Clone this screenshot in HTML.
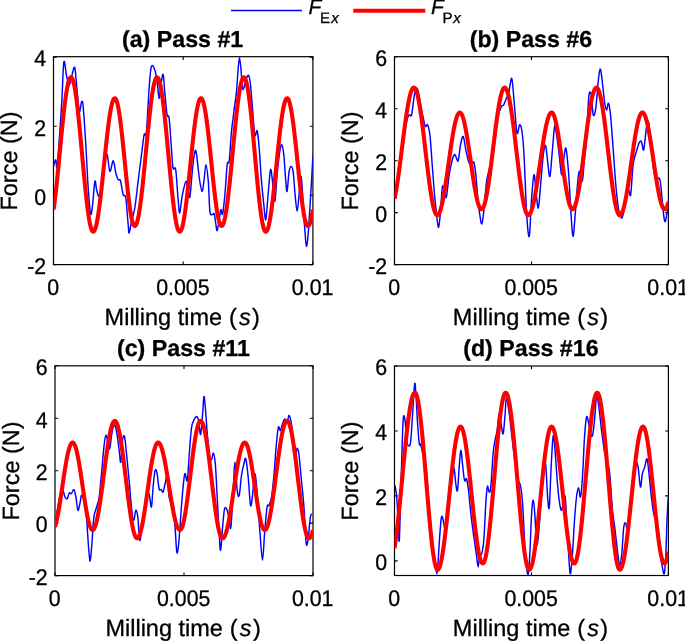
<!DOCTYPE html><html><head><meta charset="utf-8"><style>html,body{margin:0;padding:0;background:#fff;}svg{display:block;will-change:transform;}text{font-family:"Liberation Sans", sans-serif;text-rendering:geometricPrecision;stroke:#000;stroke-width:0.3px;}</style></head><body>
<svg width="685" height="641" viewBox="0 0 685 641">
<rect width="685" height="641" fill="#fff"/>
<clipPath id="ca"><rect x="53.5" y="56.7" width="259.4" height="207.9"/></clipPath>
<rect x="53.5" y="56.7" width="259.4" height="207.9" fill="none" stroke="#000" stroke-width="1.2"/>
<path d="M53.5,264.6 h3.2 M312.9,264.6 h-3.2" stroke="#000" stroke-width="1.1"/>
<text font-size="22" text-anchor="end" transform="translate(46.20,273.90) scale(0.970,1.030)">-2</text>
<path d="M53.5,195.4 h3.2 M312.9,195.4 h-3.2" stroke="#000" stroke-width="1.1"/>
<text font-size="22" text-anchor="end" transform="translate(46.20,204.73) scale(0.970,1.030)">0</text>
<path d="M53.5,126.3 h3.2 M312.9,126.3 h-3.2" stroke="#000" stroke-width="1.1"/>
<text font-size="22" text-anchor="end" transform="translate(46.20,135.57) scale(0.970,1.030)">2</text>
<path d="M53.5,57.1 h3.2 M312.9,57.1 h-3.2" stroke="#000" stroke-width="1.1"/>
<text font-size="22" text-anchor="end" transform="translate(46.20,66.40) scale(0.970,1.030)">4</text>
<path d="M53.5,264.6 v-3.2 M53.5,56.7 v3.2" stroke="#000" stroke-width="1.1"/>
<text font-size="22" text-anchor="middle" transform="translate(53.20,294.80) scale(0.970,1.030)">0</text>
<path d="M183.2,264.6 v-3.2 M183.2,56.7 v3.2" stroke="#000" stroke-width="1.1"/>
<text font-size="22" text-anchor="middle" transform="translate(182.90,294.80) scale(0.970,1.030)">0.005</text>
<path d="M312.9,264.6 v-3.2 M312.9,56.7 v3.2" stroke="#000" stroke-width="1.1"/>
<text font-size="22" text-anchor="middle" transform="translate(312.60,294.80) scale(0.970,1.030)">0.01</text>
<path d="M53.3,166.4 C53.7,165.3 55.0,160.1 55.7,159.8 C56.4,159.5 56.3,173.8 57.3,164.7 C58.3,155.5 60.5,122.0 61.6,104.9 C62.7,87.8 63.0,67.1 63.8,62.3 C64.6,57.5 65.7,72.2 66.6,76.0 C67.5,79.8 68.3,85.5 69.3,85.0 C70.3,84.5 71.6,75.9 72.5,73.0 C73.4,70.1 74.1,65.6 74.8,67.6 C75.5,69.6 75.8,77.7 76.6,85.0 C77.3,92.3 78.5,108.7 79.3,111.5 C80.1,114.3 80.9,102.1 81.6,101.6 C82.3,101.0 82.6,100.5 83.3,108.2 C84.0,115.9 85.2,134.7 86.0,148.0 C86.8,161.3 87.4,177.0 88.2,188.0 C89.0,199.0 89.9,211.2 90.6,214.0 C91.3,216.8 91.9,210.0 92.6,204.6 C93.3,199.2 94.2,183.9 94.9,181.4 C95.6,178.9 95.9,187.2 96.6,189.7 C97.3,192.2 98.1,196.6 98.9,196.3 C99.7,196.0 100.5,193.8 101.5,188.0 C102.5,182.2 104.0,166.9 104.9,161.4 C105.9,155.9 106.4,153.1 107.2,154.8 C108.0,156.5 108.9,170.4 109.9,171.4 C110.9,172.4 112.2,160.5 113.2,160.8 C114.2,161.1 115.0,169.8 115.8,173.0 C116.6,176.2 117.4,178.4 118.2,179.7 C119.0,181.0 119.7,178.2 120.5,180.7 C121.3,183.2 122.3,191.8 123.2,194.7 C124.1,197.6 125.0,193.0 125.8,198.0 C126.6,203.0 127.6,218.8 128.2,224.6 C128.8,230.4 128.5,233.4 129.1,232.9 C129.7,232.4 130.6,225.5 131.5,221.3 C132.4,217.2 133.7,214.7 134.8,208.0 C135.9,201.3 137.0,190.3 138.1,181.4 C139.2,172.5 140.5,162.6 141.5,154.8 C142.5,147.0 143.3,138.6 144.1,134.8 C144.9,131.0 145.6,139.9 146.4,132.2 C147.2,124.4 148.3,99.2 149.1,88.3 C149.9,77.4 150.4,69.6 151.4,66.6 C152.4,63.5 153.9,67.5 154.8,70.0 C155.8,72.5 156.4,76.9 157.1,81.6 C157.8,86.3 158.5,97.4 159.1,98.2 C159.7,99.0 160.0,90.6 160.7,86.6 C161.4,82.6 162.4,73.5 163.1,74.3 C163.8,75.1 164.0,84.8 164.7,91.6 C165.4,98.4 166.4,110.5 167.1,114.9 C167.8,119.3 168.4,112.7 169.1,118.2 C169.8,123.7 170.8,139.8 171.4,148.1 C172.1,156.4 172.3,164.5 173.0,168.1 C173.7,171.7 174.9,164.7 175.7,169.7 C176.5,174.7 177.3,190.8 178.0,198.0 C178.7,205.2 179.0,213.6 179.7,213.0 C180.4,212.4 181.3,200.0 182.4,194.7 C183.5,189.4 185.0,182.0 186.0,181.4 C187.0,180.8 187.6,188.8 188.3,191.3 C189.0,193.8 189.3,200.2 190.0,196.3 C190.7,192.4 191.8,175.5 192.6,168.0 C193.4,160.5 194.3,153.6 195.0,151.4 C195.7,149.2 195.9,150.4 196.6,154.8 C197.3,159.2 198.4,171.9 199.3,178.0 C200.2,184.1 201.2,190.7 202.0,191.3 C202.8,191.9 203.2,185.8 203.9,181.4 C204.6,177.0 205.2,164.7 205.9,164.7 C206.6,164.7 207.6,173.6 208.3,181.4 C209.0,189.2 209.2,205.8 209.9,211.3 C210.6,216.8 211.6,214.2 212.3,214.6 C213.0,215.0 213.7,212.3 214.3,214.0 C214.9,215.7 215.4,221.8 215.9,224.6 C216.4,227.4 216.6,231.4 217.2,230.6 C217.8,229.8 218.6,223.1 219.2,219.6 C219.8,216.1 220.3,210.5 220.9,209.6 C221.5,208.7 221.9,216.5 222.6,214.0 C223.3,211.5 224.1,202.9 224.9,194.7 C225.7,186.5 226.5,170.3 227.2,164.7 C227.9,159.0 228.5,166.3 229.2,160.8 C229.9,155.3 230.7,139.7 231.5,131.5 C232.3,123.3 233.1,118.2 233.9,111.5 C234.7,104.8 235.8,98.8 236.5,91.6 C237.2,84.4 237.7,73.9 238.2,68.3 C238.7,62.6 239.1,57.7 239.5,57.7 C239.9,57.7 240.4,63.2 240.9,68.3 C241.4,73.4 241.9,85.2 242.5,88.3 C243.1,91.3 243.5,88.3 244.2,86.6 C244.9,84.9 245.7,80.1 246.5,78.3 C247.3,76.5 248.1,74.5 248.8,75.6 C249.5,76.7 249.9,79.6 250.5,85.0 C251.1,90.4 251.8,99.9 252.5,108.2 C253.2,116.5 254.0,131.0 254.8,134.8 C255.6,138.6 256.5,128.6 257.2,130.8 C257.9,133.0 258.5,139.7 259.2,148.1 C259.9,156.5 260.7,172.0 261.5,181.4 C262.3,190.8 263.1,198.2 263.8,204.6 C264.5,211.0 265.1,221.2 265.8,219.6 C266.5,217.9 267.3,203.0 268.1,194.7 C268.9,186.4 269.8,171.9 270.5,169.7 C271.2,167.5 271.8,176.1 272.5,181.4 C273.2,186.7 274.0,202.4 274.8,201.3 C275.6,200.2 276.3,183.0 277.1,174.7 C277.9,166.4 279.0,156.4 279.8,151.4 C280.6,146.4 281.1,144.2 281.8,144.8 C282.5,145.4 283.1,148.7 283.8,154.8 C284.5,160.9 285.2,175.3 285.8,181.4 C286.4,187.5 286.6,193.0 287.1,191.3 C287.7,189.6 288.4,175.6 289.1,171.4 C289.8,167.2 290.4,166.4 291.1,166.4 C291.8,166.4 292.4,166.7 293.1,171.4 C293.8,176.1 294.4,188.0 295.1,194.7 C295.8,201.3 296.4,211.3 297.1,211.3 C297.8,211.3 298.4,200.5 299.1,194.7 C299.8,188.9 300.5,175.3 301.1,176.4 C301.8,177.5 302.4,192.7 303.0,201.3 C303.6,209.9 304.1,220.4 304.7,227.9 C305.3,235.4 305.8,245.6 306.4,246.2 C307.0,246.8 307.7,239.8 308.4,231.2 C309.1,222.6 309.9,207.4 310.7,194.7 C311.5,182.0 312.6,161.5 313.0,154.8" fill="none" stroke="#0000ff" stroke-width="1.45" stroke-linejoin="round" clip-path="url(#ca)"/>
<path d="M53.50,209.64 L54.00,206.22 L54.50,202.53 L55.00,198.59 L55.50,194.41 L56.00,190.03 L56.50,185.45 L57.00,180.71 L57.50,175.82 L58.00,170.81 L58.50,165.71 L59.00,160.53 L59.50,155.31 L60.00,150.08 L60.50,144.85 L61.00,139.66 L61.50,134.52 L62.00,129.47 L62.50,124.53 L63.00,119.73 L63.50,115.08 L64.00,110.62 L64.50,106.35 L65.00,102.32 L65.50,98.52 L66.00,94.99 L66.50,91.75 L67.00,88.80 L67.50,86.16 L68.00,83.84 L68.50,81.86 L69.00,80.23 L69.50,78.95 L70.00,78.04 L70.50,77.48 L71.00,77.30 L71.50,77.49 L72.00,78.07 L72.50,79.03 L73.00,80.37 L73.50,82.08 L74.00,84.15 L74.50,86.58 L75.00,89.34 L75.50,92.43 L76.00,95.83 L76.50,99.53 L77.00,103.50 L77.50,107.72 L78.00,112.18 L78.50,116.85 L79.00,121.71 L79.50,126.73 L80.00,131.89 L80.50,137.17 L81.00,142.53 L81.50,147.95 L82.00,153.41 L82.50,158.87 L83.00,164.31 L83.50,169.69 L84.00,175.01 L84.50,180.22 L85.00,185.30 L85.50,190.23 L86.00,194.98 L86.50,199.52 L87.00,203.84 L87.50,207.92 L88.00,211.72 L88.50,215.24 L89.00,218.46 L89.50,221.36 L90.00,223.92 L90.50,226.13 L91.00,227.99 L91.50,229.48 L92.00,230.59 L92.50,231.32 L93.00,231.67 L93.50,231.64 L94.00,231.25 L94.50,230.51 L95.00,229.43 L95.50,228.00 L96.00,226.24 L96.50,224.16 L97.00,221.76 L97.50,219.07 L98.00,216.08 L98.50,212.83 L99.00,209.33 L99.50,205.58 L100.00,201.63 L100.50,197.48 L101.00,193.16 L101.50,188.69 L102.00,184.09 L102.50,179.40 L103.00,174.62 L103.50,169.80 L104.00,164.95 L104.50,160.10 L105.00,155.28 L105.50,150.50 L106.00,145.81 L106.50,141.21 L107.00,136.74 L107.50,132.42 L108.00,128.27 L108.50,124.32 L109.00,120.57 L109.50,117.07 L110.00,113.82 L110.50,110.83 L111.00,108.14 L111.50,105.74 L112.00,103.66 L112.50,101.90 L113.00,100.47 L113.50,99.39 L114.00,98.65 L114.50,98.26 L115.00,98.23 L115.50,98.59 L116.00,99.33 L116.50,100.46 L117.00,101.98 L117.50,103.86 L118.00,106.10 L118.50,108.69 L119.00,111.61 L119.50,114.84 L120.00,118.36 L120.50,122.15 L121.00,126.18 L121.50,130.44 L122.00,134.89 L122.50,139.51 L123.00,144.27 L123.50,149.14 L124.00,154.09 L124.50,159.09 L125.00,164.11 L125.50,169.11 L126.00,174.07 L126.50,178.96 L127.00,183.75 L127.50,188.40 L128.00,192.88 L128.50,197.18 L129.00,201.26 L129.50,205.11 L130.00,208.68 L130.50,211.97 L131.00,214.95 L131.50,217.61 L132.00,219.92 L132.50,221.87 L133.00,223.46 L133.50,224.67 L134.00,225.50 L134.50,225.93 L135.00,225.97 L135.50,225.64 L136.00,224.94 L136.50,223.88 L137.00,222.46 L137.50,220.69 L138.00,218.57 L138.50,216.13 L139.00,213.36 L139.50,210.29 L140.00,206.93 L140.50,203.29 L141.00,199.40 L141.50,195.27 L142.00,190.92 L142.50,186.38 L143.00,181.67 L143.50,176.81 L144.00,171.82 L144.50,166.73 L145.00,161.57 L145.50,156.36 L146.00,151.13 L146.50,145.89 L147.00,140.69 L147.50,135.54 L148.00,130.47 L148.50,125.51 L149.00,120.68 L149.50,116.00 L150.00,111.49 L150.50,107.19 L151.00,103.11 L151.50,99.26 L152.00,95.68 L152.50,92.37 L153.00,89.36 L153.50,86.66 L154.00,84.28 L154.50,82.23 L155.00,80.53 L155.50,79.18 L156.00,78.19 L156.50,77.57 L157.00,77.31 L157.50,77.42 L158.00,77.90 L158.50,78.76 L159.00,79.98 L159.50,81.56 L160.00,83.49 L160.50,85.76 L161.00,88.37 L161.50,91.30 L162.00,94.53 L162.50,98.05 L163.00,101.84 L163.50,105.89 L164.00,110.17 L164.50,114.67 L165.00,119.36 L165.50,124.21 L166.00,129.22 L166.50,134.35 L167.00,139.57 L167.50,144.87 L168.00,150.21 L168.50,155.57 L169.00,160.93 L169.50,166.26 L170.00,171.53 L170.50,176.72 L171.00,181.80 L171.50,186.75 L172.00,191.54 L172.50,196.16 L173.00,200.57 L173.50,204.76 L174.00,208.71 L174.50,212.39 L175.00,215.80 L175.50,218.91 L176.00,221.71 L176.50,224.19 L177.00,226.33 L177.50,228.12 L178.00,229.55 L178.50,230.63 L179.00,231.33 L179.50,231.67 L180.00,231.63 L180.50,231.24 L181.00,230.48 L181.50,229.36 L182.00,227.90 L182.50,226.09 L183.00,223.95 L183.50,221.49 L184.00,218.72 L184.50,215.66 L185.00,212.32 L185.50,208.73 L186.00,204.90 L186.50,200.85 L187.00,196.61 L187.50,192.19 L188.00,187.63 L188.50,182.94 L189.00,178.15 L189.50,173.30 L190.00,168.39 L190.50,163.47 L191.00,158.56 L191.50,153.68 L192.00,148.87 L192.50,144.14 L193.00,139.52 L193.50,135.04 L194.00,130.73 L194.50,126.60 L195.00,122.68 L195.50,118.98 L196.00,115.54 L196.50,112.37 L197.00,109.48 L197.50,106.90 L198.00,104.63 L198.50,102.69 L199.00,101.08 L199.50,99.83 L200.00,98.92 L200.50,98.38 L201.00,98.20 L201.50,98.39 L202.00,98.94 L202.50,99.86 L203.00,101.15 L203.50,102.79 L204.00,104.77 L204.50,107.09 L205.00,109.73 L205.50,112.67 L206.00,115.89 L206.50,119.39 L207.00,123.14 L207.50,127.11 L208.00,131.28 L208.50,135.64 L209.00,140.14 L209.50,144.78 L210.00,149.51 L210.50,154.32 L211.00,159.18 L211.50,164.05 L212.00,168.91 L212.50,173.73 L213.00,178.48 L213.50,183.14 L214.00,187.67 L214.50,192.06 L215.00,196.27 L215.50,200.29 L216.00,204.08 L216.50,207.63 L217.00,210.91 L217.50,213.91 L218.00,216.61 L218.50,218.99 L219.00,221.04 L219.50,222.75 L220.00,224.11 L220.50,225.10 L221.00,225.73 L221.50,225.99 L222.00,225.88 L222.50,225.40 L223.00,224.56 L223.50,223.35 L224.00,221.79 L224.50,219.88 L225.00,217.63 L225.50,215.06 L226.00,212.17 L226.50,208.98 L227.00,205.50 L227.50,201.76 L228.00,197.77 L228.50,193.55 L229.00,189.13 L229.50,184.51 L230.00,179.74 L230.50,174.82 L231.00,169.79 L231.50,164.68 L232.00,159.49 L232.50,154.27 L233.00,149.03 L233.50,143.81 L234.00,138.62 L234.50,133.51 L235.00,128.48 L235.50,123.56 L236.00,118.79 L236.50,114.17 L237.00,109.75 L237.50,105.53 L238.00,101.54 L238.50,97.80 L239.00,94.32 L239.50,91.13 L240.00,88.24 L240.50,85.67 L241.00,83.42 L241.50,81.51 L242.00,79.95 L242.50,78.74 L243.00,77.90 L243.50,77.42 L244.00,77.31 L244.50,77.59 L245.00,78.26 L245.50,79.32 L246.00,80.78 L246.50,82.61 L247.00,84.81 L247.50,87.37 L248.00,90.27 L248.50,93.51 L249.00,97.06 L249.50,100.90 L250.00,105.02 L250.50,109.39 L251.00,114.00 L251.50,118.81 L252.00,123.81 L252.50,128.97 L253.00,134.25 L253.50,139.64 L254.00,145.11 L254.50,150.63 L255.00,156.16 L255.50,161.69 L256.00,167.18 L256.50,172.60 L257.00,177.93 L257.50,183.15 L258.00,188.21 L258.50,193.10 L259.00,197.79 L259.50,202.26 L260.00,206.49 L260.50,210.44 L261.00,214.11 L261.50,217.47 L262.00,220.51 L262.50,223.21 L263.00,225.56 L263.50,227.54 L264.00,229.14 L264.50,230.36 L265.00,231.19 L265.50,231.63 L266.00,231.67 L266.50,231.34 L267.00,230.66 L267.50,229.61 L268.00,228.22 L268.50,226.48 L269.00,224.40 L269.50,222.00 L270.00,219.30 L270.50,216.29 L271.00,213.01 L271.50,209.47 L272.00,205.68 L272.50,201.68 L273.00,197.47 L273.50,193.09 L274.00,188.55 L274.50,183.88 L275.00,179.12 L275.50,174.27 L276.00,169.38 L276.50,164.46 L277.00,159.54 L277.50,154.65 L278.00,149.82 L278.50,145.07 L279.00,140.43 L279.50,135.92 L280.00,131.58 L280.50,127.41 L281.00,123.44 L281.50,119.70 L282.00,116.21 L282.50,112.98 L283.00,110.04 L283.50,107.39 L284.00,105.06 L284.50,103.05 L285.00,101.38 L285.50,100.05 L286.00,99.08 L286.50,98.46 L287.00,98.21 L287.50,98.32 L288.00,98.78 L288.50,99.61 L289.00,100.79 L289.50,102.31 L290.00,104.18 L290.50,106.37 L291.00,108.87 L291.50,111.67 L292.00,114.76 L292.50,118.12 L293.00,121.72 L293.50,125.56 L294.00,129.60 L294.50,133.82 L295.00,138.20 L295.50,142.72 L296.00,147.35 L296.50,152.06 L297.00,156.82 L297.50,161.62 L298.00,166.42 L298.50,171.19 L299.00,175.92 L299.50,180.56 L300.00,185.10 L300.50,189.52 L301.00,193.77 L301.50,197.85 L302.00,201.73 L302.50,205.38 L303.00,208.79 L303.50,211.93 L304.00,214.79 L304.50,217.36 L305.00,219.61 L305.50,221.54 L306.00,223.13 L306.50,224.38 L307.00,225.28 L307.50,225.82 L308.00,226.00 L308.50,225.82 L309.00,225.29 L309.50,224.40 L310.00,223.16 L310.50,221.58 L311.00,219.66 L311.50,217.43 L312.00,214.88 L312.50,212.04 L312.90,209.56" fill="none" stroke="#ff0000" stroke-width="4.1" stroke-linejoin="round" clip-path="url(#ca)"/>
<text x="104.60" y="324.9" font-size="23.5">Milling time</text>
<text x="228.90" y="324.9" font-size="23.5">(</text>
<text x="238.90" y="324.9" font-size="23.5" font-style="italic">s</text>
<text x="252.10" y="324.9" font-size="23.5">)</text>
<text x="0" y="0" font-size="23.5" text-anchor="middle" transform="translate(17.1,161.0) rotate(-90)">Force (N)</text>
<text x="182.6" y="46.7" font-size="23.2" font-weight="bold" text-anchor="middle">(a) Pass #1</text>
<clipPath id="cb"><rect x="394.5" y="56.7" width="273.9" height="207.9"/></clipPath>
<rect x="394.5" y="56.7" width="273.9" height="207.9" fill="none" stroke="#000" stroke-width="1.2"/>
<path d="M394.5,264.6 h3.2 M668.4,264.6 h-3.2" stroke="#000" stroke-width="1.1"/>
<text font-size="22" text-anchor="end" transform="translate(387.20,273.90) scale(0.970,1.030)">-2</text>
<path d="M394.5,212.6 h3.2 M668.4,212.6 h-3.2" stroke="#000" stroke-width="1.1"/>
<text font-size="22" text-anchor="end" transform="translate(387.20,221.93) scale(0.970,1.030)">0</text>
<path d="M394.5,160.7 h3.2 M668.4,160.7 h-3.2" stroke="#000" stroke-width="1.1"/>
<text font-size="22" text-anchor="end" transform="translate(387.20,169.95) scale(0.970,1.030)">2</text>
<path d="M394.5,108.7 h3.2 M668.4,108.7 h-3.2" stroke="#000" stroke-width="1.1"/>
<text font-size="22" text-anchor="end" transform="translate(387.20,117.98) scale(0.970,1.030)">4</text>
<path d="M394.5,56.7 h3.2 M668.4,56.7 h-3.2" stroke="#000" stroke-width="1.1"/>
<text font-size="22" text-anchor="end" transform="translate(387.20,66.00) scale(0.970,1.030)">6</text>
<path d="M394.5,264.6 v-3.2 M394.5,56.7 v3.2" stroke="#000" stroke-width="1.1"/>
<text font-size="22" text-anchor="middle" transform="translate(394.20,294.80) scale(0.970,1.030)">0</text>
<path d="M531.5,264.6 v-3.2 M531.5,56.7 v3.2" stroke="#000" stroke-width="1.1"/>
<text font-size="22" text-anchor="middle" transform="translate(531.15,294.80) scale(0.970,1.030)">0.005</text>
<path d="M668.4,264.6 v-3.2 M668.4,56.7 v3.2" stroke="#000" stroke-width="1.1"/>
<text font-size="22" text-anchor="middle" transform="translate(668.10,294.80) scale(0.970,1.030)">0.01</text>
<path d="M395.0,198.0 C395.4,196.3 396.5,193.0 397.3,188.0 C398.1,183.0 399.0,175.8 400.0,168.0 C401.0,160.2 402.2,149.2 403.3,141.5 C404.4,133.8 405.7,125.9 406.6,121.5 C407.6,117.1 408.2,116.0 409.0,114.9 C409.8,113.8 410.8,117.7 411.6,114.9 C412.4,112.1 413.2,102.6 413.9,98.2 C414.6,93.8 415.2,89.4 415.9,88.3 C416.6,87.2 417.5,88.8 418.3,91.6 C419.1,94.4 419.8,100.5 420.6,104.9 C421.4,109.3 422.5,114.6 423.3,118.2 C424.1,121.8 424.6,125.4 425.3,126.5 C426.0,127.6 426.8,123.4 427.6,124.8 C428.4,126.2 429.1,128.2 429.9,134.8 C430.7,141.5 431.5,155.3 432.2,164.7 C432.9,174.1 433.5,183.0 434.2,191.3 C434.9,199.6 435.9,208.6 436.6,214.6 C437.3,220.6 438.0,227.9 438.6,227.3 C439.2,226.8 439.9,218.1 440.5,211.3 C441.1,204.5 441.8,189.2 442.5,186.4 C443.2,183.6 444.2,193.0 444.9,194.7 C445.6,196.3 445.8,199.6 446.5,196.3 C447.2,193.0 448.3,180.5 449.2,174.7 C450.1,168.9 451.1,164.7 451.9,161.4 C452.7,158.1 453.5,155.6 454.2,154.8 C454.9,154.0 455.1,155.4 455.8,156.4 C456.5,157.4 457.4,162.7 458.2,160.8 C459.0,158.9 459.7,148.9 460.5,144.8 C461.3,140.8 462.3,135.7 463.2,136.5 C464.1,137.3 464.9,145.7 465.8,149.8 C466.7,154.0 467.6,158.9 468.5,161.4 C469.4,163.9 470.6,164.6 471.5,164.7 C472.4,164.8 473.1,160.4 473.8,162.1 C474.5,163.8 475.1,168.2 475.8,174.7 C476.5,181.2 477.4,194.7 478.1,201.3 C478.8,208.0 479.2,210.8 479.8,214.6 C480.4,218.4 481.1,224.4 481.8,223.9 C482.5,223.4 483.0,218.1 483.8,211.3 C484.6,204.5 485.5,189.9 486.4,183.0 C487.3,176.1 488.3,173.3 489.1,169.7 C489.9,166.1 490.4,166.1 491.4,161.4 C492.3,156.7 493.7,149.0 494.8,141.5 C495.9,134.0 497.0,122.3 498.1,116.5 C499.2,110.7 500.5,108.4 501.4,106.5 C502.3,104.6 502.9,106.3 503.7,104.9 C504.5,103.5 505.6,100.2 506.4,98.2 C507.2,96.2 507.9,96.5 508.7,93.2 C509.5,89.9 510.7,79.1 511.4,78.3 C512.1,77.5 512.5,83.3 513.0,88.3 C513.5,93.3 514.0,100.7 514.7,108.2 C515.4,115.7 516.2,130.4 517.0,133.2 C517.8,136.0 518.9,125.1 519.7,124.8 C520.5,124.5 521.3,126.5 522.0,131.5 C522.7,136.5 523.2,141.0 524.0,154.8 C524.8,168.7 525.8,201.0 526.7,214.6 C527.6,228.2 528.5,239.0 529.3,236.2 C530.1,233.4 530.8,208.2 531.6,198.0 C532.4,187.8 533.3,175.8 534.0,174.7 C534.7,173.6 535.3,185.8 536.0,191.3 C536.7,196.9 537.5,209.1 538.3,208.0 C539.1,206.9 539.8,193.6 540.6,184.7 C541.4,175.8 542.5,161.3 543.3,154.8 C544.1,148.3 544.9,144.4 545.6,145.5 C546.3,146.6 546.9,156.2 547.6,161.4 C548.3,166.6 549.1,178.1 549.9,176.4 C550.7,174.7 551.5,159.7 552.3,151.4 C553.1,143.1 553.9,129.3 554.6,126.5 C555.3,123.7 555.8,130.1 556.6,134.8 C557.4,139.5 558.4,148.2 559.2,154.8 C560.0,161.5 560.8,174.1 561.6,174.7 C562.4,175.2 563.2,162.5 563.9,158.1 C564.6,153.7 565.2,146.4 565.9,148.1 C566.6,149.8 567.5,160.2 568.2,168.0 C568.9,175.8 569.4,185.8 569.9,194.7 C570.4,203.6 571.0,214.4 571.5,221.3 C572.0,228.2 572.6,237.3 573.2,236.2 C573.8,235.1 574.5,222.6 575.2,214.6 C575.9,206.6 576.5,195.2 577.2,188.0 C577.9,180.8 578.4,172.6 579.2,171.4 C580.1,170.2 581.5,182.7 582.3,181.0 C583.1,179.3 583.5,168.6 584.2,161.4 C584.9,154.2 585.7,148.9 586.5,138.1 C587.3,127.3 588.0,103.8 588.8,96.6 C589.6,89.4 590.5,91.9 591.2,94.9 C591.9,98.0 592.4,112.7 593.2,114.9 C594.0,117.1 595.0,113.8 595.8,108.2 C596.6,102.7 597.5,88.1 598.2,81.6 C598.9,75.1 599.5,69.3 600.1,69.0 C600.8,68.7 601.4,74.6 602.1,80.0 C602.8,85.4 603.8,96.6 604.5,101.6 C605.2,106.6 605.8,109.6 606.5,109.9 C607.2,110.2 607.8,102.4 608.5,103.2 C609.2,104.0 609.7,107.4 610.5,114.9 C611.3,122.4 612.2,136.5 613.1,148.1 C614.0,159.7 614.9,174.7 615.8,184.7 C616.7,194.7 617.5,202.4 618.4,208.0 C619.3,213.6 620.5,217.4 621.4,218.0 C622.3,218.6 623.0,215.2 623.8,211.3 C624.6,207.4 625.6,198.3 626.4,194.7 C627.2,191.1 628.0,189.7 628.7,189.7 C629.4,189.7 630.0,198.9 630.7,194.7 C631.4,190.5 632.2,171.9 633.1,164.7 C634.0,157.5 635.4,155.0 636.4,151.4 C637.4,147.8 638.3,144.8 639.1,143.1 C639.9,141.4 640.6,140.4 641.4,141.5 C642.2,142.6 642.9,152.0 643.7,149.8 C644.5,147.6 645.6,132.9 646.4,128.2 C647.2,123.5 647.7,119.8 648.4,121.5 C649.1,123.2 649.6,130.9 650.4,138.1 C651.2,145.3 652.1,157.8 653.0,164.7 C653.9,171.6 654.8,177.5 655.7,179.7 C656.6,181.9 657.5,177.7 658.3,178.0 C659.1,178.3 659.6,177.5 660.3,181.4 C661.0,185.3 661.6,194.7 662.3,201.3 C663.0,208.0 663.9,219.4 664.7,221.3 C665.5,223.2 666.3,216.9 667.0,213.0 C667.7,209.1 668.7,200.5 669.0,198.0" fill="none" stroke="#0000ff" stroke-width="1.45" stroke-linejoin="round" clip-path="url(#cb)"/>
<path d="M394.50,198.87 L395.00,196.53 L395.50,193.99 L396.00,191.25 L396.50,188.33 L397.00,185.23 L397.50,181.97 L398.00,178.57 L398.50,175.04 L399.00,171.39 L399.50,167.64 L400.00,163.81 L400.50,159.92 L401.00,155.97 L401.50,151.99 L402.00,148.00 L402.50,144.01 L403.00,140.04 L403.50,136.10 L404.00,132.21 L404.50,128.40 L405.00,124.67 L405.50,121.05 L406.00,117.54 L406.50,114.17 L407.00,110.94 L407.50,107.88 L408.00,104.99 L408.50,102.28 L409.00,99.78 L409.50,97.49 L410.00,95.42 L410.50,93.57 L411.00,91.96 L411.50,90.60 L412.00,89.49 L412.50,88.63 L413.00,88.02 L413.50,87.68 L414.00,87.61 L414.50,87.81 L415.00,88.30 L415.50,89.08 L416.00,90.14 L416.50,91.48 L417.00,93.09 L417.50,94.97 L418.00,97.10 L418.50,99.48 L419.00,102.10 L419.50,104.94 L420.00,107.99 L420.50,111.24 L421.00,114.67 L421.50,118.27 L422.00,122.01 L422.50,125.90 L423.00,129.89 L423.50,133.99 L424.00,138.16 L424.50,142.40 L425.00,146.67 L425.50,150.97 L426.00,155.27 L426.50,159.55 L427.00,163.79 L427.50,167.98 L428.00,172.09 L428.50,176.11 L429.00,180.02 L429.50,183.80 L430.00,187.42 L430.50,190.89 L431.00,194.18 L431.50,197.27 L432.00,200.15 L432.50,202.81 L433.00,205.24 L433.50,207.42 L434.00,209.35 L434.50,211.02 L435.00,212.41 L435.50,213.53 L436.00,214.37 L436.50,214.92 L437.00,215.18 L437.50,215.16 L438.00,214.88 L438.50,214.36 L439.00,213.60 L439.50,212.60 L440.00,211.36 L440.50,209.89 L441.00,208.20 L441.50,206.30 L442.00,204.19 L442.50,201.88 L443.00,199.39 L443.50,196.74 L444.00,193.92 L444.50,190.95 L445.00,187.86 L445.50,184.65 L446.00,181.34 L446.50,177.94 L447.00,174.48 L447.50,170.97 L448.00,167.42 L448.50,163.85 L449.00,160.28 L449.50,156.73 L450.00,153.22 L450.50,149.76 L451.00,146.36 L451.50,143.05 L452.00,139.84 L452.50,136.75 L453.00,133.78 L453.50,130.96 L454.00,128.31 L454.50,125.82 L455.00,123.51 L455.50,121.40 L456.00,119.50 L456.50,117.81 L457.00,116.34 L457.50,115.10 L458.00,114.10 L458.50,113.34 L459.00,112.82 L459.50,112.54 L460.00,112.52 L460.50,112.75 L461.00,113.23 L461.50,113.96 L462.00,114.93 L462.50,116.15 L463.00,117.60 L463.50,119.27 L464.00,121.17 L464.50,123.27 L465.00,125.57 L465.50,128.05 L466.00,130.70 L466.50,133.52 L467.00,136.47 L467.50,139.56 L468.00,142.75 L468.50,146.04 L469.00,149.41 L469.50,152.84 L470.00,156.31 L470.50,159.80 L471.00,163.30 L471.50,166.78 L472.00,170.24 L472.50,173.65 L473.00,176.98 L473.50,180.24 L474.00,183.39 L474.50,186.43 L475.00,189.33 L475.50,192.08 L476.00,194.67 L476.50,197.08 L477.00,199.30 L477.50,201.32 L478.00,203.12 L478.50,204.71 L479.00,206.07 L479.50,207.19 L480.00,208.06 L480.50,208.69 L481.00,209.07 L481.50,209.20 L482.00,209.06 L482.50,208.64 L483.00,207.95 L483.50,206.98 L484.00,205.75 L484.50,204.25 L485.00,202.50 L485.50,200.50 L486.00,198.26 L486.50,195.79 L487.00,193.10 L487.50,190.21 L488.00,187.13 L488.50,183.87 L489.00,180.45 L489.50,176.88 L490.00,173.18 L490.50,169.37 L491.00,165.46 L491.50,161.47 L492.00,157.42 L492.50,153.33 L493.00,149.22 L493.50,145.11 L494.00,141.01 L494.50,136.94 L495.00,132.93 L495.50,128.99 L496.00,125.13 L496.50,121.39 L497.00,117.76 L497.50,114.28 L498.00,110.95 L498.50,107.80 L499.00,104.83 L499.50,102.06 L500.00,99.50 L500.50,97.17 L501.00,95.07 L501.50,93.22 L502.00,91.62 L502.50,90.28 L503.00,89.20 L503.50,88.40 L504.00,87.87 L504.50,87.62 L505.00,87.65 L505.50,87.96 L506.00,88.55 L506.50,89.42 L507.00,90.57 L507.50,91.98 L508.00,93.66 L508.50,95.59 L509.00,97.77 L509.50,100.19 L510.00,102.83 L510.50,105.69 L511.00,108.75 L511.50,112.00 L512.00,115.43 L512.50,119.01 L513.00,122.74 L513.50,126.59 L514.00,130.56 L514.50,134.61 L515.00,138.75 L515.50,142.93 L516.00,147.16 L516.50,151.40 L517.00,155.64 L517.50,159.87 L518.00,164.05 L518.50,168.19 L519.00,172.24 L519.50,176.21 L520.00,180.06 L520.50,183.79 L521.00,187.37 L521.50,190.80 L522.00,194.05 L522.50,197.11 L523.00,199.97 L523.50,202.61 L524.00,205.03 L524.50,207.21 L525.00,209.14 L525.50,210.82 L526.00,212.23 L526.50,213.38 L527.00,214.25 L527.50,214.84 L528.00,215.15 L528.50,215.18 L529.00,214.97 L529.50,214.53 L530.00,213.86 L530.50,212.96 L531.00,211.83 L531.50,210.49 L532.00,208.94 L532.50,207.18 L533.00,205.23 L533.50,203.09 L534.00,200.77 L534.50,198.28 L535.00,195.63 L535.50,192.84 L536.00,189.92 L536.50,186.88 L537.00,183.74 L537.50,180.51 L538.00,177.20 L538.50,173.83 L539.00,170.41 L539.50,166.96 L540.00,163.50 L540.50,160.05 L541.00,156.60 L541.50,153.20 L542.00,149.84 L542.50,146.54 L543.00,143.32 L543.50,140.20 L544.00,137.18 L544.50,134.29 L545.00,131.53 L545.50,128.91 L546.00,126.46 L546.50,124.17 L547.00,122.06 L547.50,120.15 L548.00,118.43 L548.50,116.92 L549.00,115.62 L549.50,114.54 L550.00,113.69 L550.50,113.06 L551.00,112.67 L551.50,112.50 L552.00,112.59 L552.50,112.94 L553.00,113.57 L553.50,114.46 L554.00,115.61 L554.50,117.02 L555.00,118.68 L555.50,120.57 L556.00,122.70 L556.50,125.03 L557.00,127.57 L557.50,130.30 L558.00,133.20 L558.50,136.26 L559.00,139.45 L559.50,142.77 L560.00,146.19 L560.50,149.69 L561.00,153.25 L561.50,156.86 L562.00,160.49 L562.50,164.12 L563.00,167.73 L563.50,171.31 L564.00,174.82 L564.50,178.26 L565.00,181.59 L565.50,184.81 L566.00,187.90 L566.50,190.83 L567.00,193.60 L567.50,196.18 L568.00,198.55 L568.50,200.72 L569.00,202.66 L569.50,204.37 L570.00,205.83 L570.50,207.03 L571.00,207.98 L571.50,208.65 L572.00,209.06 L572.50,209.20 L573.00,209.07 L573.50,208.68 L574.00,208.03 L574.50,207.13 L575.00,205.97 L575.50,204.57 L576.00,202.93 L576.50,201.05 L577.00,198.95 L577.50,196.64 L578.00,194.11 L578.50,191.39 L579.00,188.49 L579.50,185.41 L580.00,182.18 L580.50,178.80 L581.00,175.29 L581.50,171.67 L582.00,167.94 L582.50,164.14 L583.00,160.26 L583.50,156.34 L584.00,152.38 L584.50,148.40 L585.00,144.42 L585.50,140.46 L586.00,136.54 L586.50,132.66 L587.00,128.86 L587.50,125.13 L588.00,121.51 L588.50,118.00 L589.00,114.62 L589.50,111.39 L590.00,108.31 L590.50,105.41 L591.00,102.69 L591.50,100.16 L592.00,97.85 L592.50,95.75 L593.00,93.87 L593.50,92.23 L594.00,90.83 L594.50,89.67 L595.00,88.77 L595.50,88.12 L596.00,87.73 L596.50,87.60 L597.00,87.74 L597.50,88.18 L598.00,88.90 L598.50,89.91 L599.00,91.19 L599.50,92.75 L600.00,94.57 L600.50,96.66 L601.00,98.99 L601.50,101.56 L602.00,104.35 L602.50,107.36 L603.00,110.57 L603.50,113.97 L604.00,117.53 L604.50,121.25 L605.00,125.11 L605.50,129.09 L606.00,133.16 L606.50,137.32 L607.00,141.55 L607.50,145.82 L608.00,150.11 L608.50,154.41 L609.00,158.70 L609.50,162.95 L610.00,167.15 L610.50,171.28 L611.00,175.32 L611.50,179.25 L612.00,183.05 L612.50,186.71 L613.00,190.21 L613.50,193.53 L614.00,196.67 L614.50,199.59 L615.00,202.30 L615.50,204.77 L616.00,207.01 L616.50,208.99 L617.00,210.71 L617.50,212.16 L618.00,213.33 L618.50,214.22 L619.00,214.83 L619.50,215.15 L620.00,215.18 L620.50,214.96 L621.00,214.49 L621.50,213.77 L622.00,212.82 L622.50,211.63 L623.00,210.20 L623.50,208.56 L624.00,206.69 L624.50,204.62 L625.00,202.36 L625.50,199.91 L626.00,197.28 L626.50,194.49 L627.00,191.56 L627.50,188.49 L628.00,185.30 L628.50,182.01 L629.00,178.63 L629.50,175.18 L630.00,171.67 L630.50,168.13 L631.00,164.56 L631.50,161.00 L632.00,157.44 L632.50,153.92 L633.00,150.44 L633.50,147.03 L634.00,143.71 L634.50,140.47 L635.00,137.36 L635.50,134.36 L636.00,131.52 L636.50,128.82 L637.00,126.30 L637.50,123.96 L638.00,121.81 L638.50,119.86 L639.00,118.13 L639.50,116.62 L640.00,115.33 L640.50,114.28 L641.00,113.47 L641.50,112.90 L642.00,112.58 L642.50,112.50 L643.00,112.67 L643.50,113.08 L644.00,113.72 L644.50,114.60 L645.00,115.71 L645.50,117.04 L646.00,118.59 L646.50,120.34 L647.00,122.30 L647.50,124.45 L648.00,126.78 L648.50,129.28 L649.00,131.94 L649.50,134.74 L650.00,137.66 L650.50,140.71 L651.00,143.85 L651.50,147.08 L652.00,150.38 L652.50,153.72 L653.00,157.11 L653.50,160.51 L654.00,163.91 L654.50,167.30 L655.00,170.66 L655.50,173.97 L656.00,177.21 L656.50,180.37 L657.00,183.44 L657.50,186.39 L658.00,189.21 L658.50,191.90 L659.00,194.43 L659.50,196.80 L660.00,198.98 L660.50,200.98 L661.00,202.78 L661.50,204.37 L662.00,205.74 L662.50,206.90 L663.00,207.82 L663.50,208.51 L664.00,208.97 L664.50,209.18 L665.00,209.15 L665.50,208.85 L666.00,208.27 L666.50,207.41 L667.00,206.29 L667.50,204.91 L668.00,203.27 L668.40,201.77" fill="none" stroke="#ff0000" stroke-width="4.1" stroke-linejoin="round" clip-path="url(#cb)"/>
<text x="452.85" y="324.9" font-size="23.5">Milling time</text>
<text x="577.15" y="324.9" font-size="23.5">(</text>
<text x="587.15" y="324.9" font-size="23.5" font-style="italic">s</text>
<text x="600.35" y="324.9" font-size="23.5">)</text>
<text x="0" y="0" font-size="23.5" text-anchor="middle" transform="translate(358.1,161.0) rotate(-90)">Force (N)</text>
<text x="530.9" y="46.7" font-size="23.2" font-weight="bold" text-anchor="middle">(b) Pass #6</text>
<clipPath id="cc"><rect x="55.0" y="365.8" width="258.0" height="209.8"/></clipPath>
<rect x="55.0" y="365.8" width="258.0" height="209.8" fill="none" stroke="#000" stroke-width="1.2"/>
<path d="M55.0,575.6 h3.2 M313.0,575.6 h-3.2" stroke="#000" stroke-width="1.1"/>
<text font-size="22" text-anchor="end" transform="translate(47.70,584.90) scale(0.970,1.030)">-2</text>
<path d="M55.0,523.1 h3.2 M313.0,523.1 h-3.2" stroke="#000" stroke-width="1.1"/>
<text font-size="22" text-anchor="end" transform="translate(47.70,532.45) scale(0.970,1.030)">0</text>
<path d="M55.0,470.7 h3.2 M313.0,470.7 h-3.2" stroke="#000" stroke-width="1.1"/>
<text font-size="22" text-anchor="end" transform="translate(47.70,480.00) scale(0.970,1.030)">2</text>
<path d="M55.0,418.2 h3.2 M313.0,418.2 h-3.2" stroke="#000" stroke-width="1.1"/>
<text font-size="22" text-anchor="end" transform="translate(47.70,427.55) scale(0.970,1.030)">4</text>
<path d="M55.0,365.8 h3.2 M313.0,365.8 h-3.2" stroke="#000" stroke-width="1.1"/>
<text font-size="22" text-anchor="end" transform="translate(47.70,375.10) scale(0.970,1.030)">6</text>
<path d="M55.0,575.6 v-3.2 M55.0,365.8 v3.2" stroke="#000" stroke-width="1.1"/>
<text font-size="22" text-anchor="middle" transform="translate(54.70,605.80) scale(0.970,1.030)">0</text>
<path d="M184.0,575.6 v-3.2 M184.0,365.8 v3.2" stroke="#000" stroke-width="1.1"/>
<text font-size="22" text-anchor="middle" transform="translate(183.70,605.80) scale(0.970,1.030)">0.005</text>
<path d="M313.0,575.6 v-3.2 M313.0,365.8 v3.2" stroke="#000" stroke-width="1.1"/>
<text font-size="22" text-anchor="middle" transform="translate(312.70,605.80) scale(0.970,1.030)">0.01</text>
<path d="M55.0,523.6 C55.4,521.4 56.5,515.0 57.3,510.3 C58.1,505.6 59.1,498.8 60.0,495.4 C60.9,492.0 61.8,489.4 62.6,489.7 C63.4,490.0 64.2,495.5 65.0,497.0 C65.8,498.5 66.6,499.4 67.3,498.7 C68.0,498.0 68.6,493.8 69.3,493.0 C70.0,492.2 70.5,494.2 71.3,493.7 C72.1,493.1 73.1,489.1 73.9,489.7 C74.7,490.2 75.2,493.6 75.9,497.0 C76.6,500.4 77.2,509.2 77.9,510.3 C78.6,511.4 79.2,506.2 79.9,503.7 C80.6,501.2 80.9,494.3 81.9,495.4 C82.9,496.5 85.0,504.5 85.9,510.3 C86.8,516.1 86.9,523.6 87.4,530.3 C87.9,536.9 88.3,545.1 88.8,550.2 C89.3,555.3 89.7,562.0 90.2,560.9 C90.7,559.8 91.3,550.9 91.9,543.6 C92.5,536.3 93.1,523.1 93.9,517.0 C94.7,510.9 95.7,510.3 96.6,507.0 C97.5,503.7 98.4,502.6 99.2,497.0 C100.0,491.4 100.7,482.0 101.5,473.7 C102.3,465.4 103.2,453.5 103.9,447.1 C104.6,440.7 105.2,436.7 105.8,435.5 C106.4,434.3 106.9,437.8 107.5,440.0 C108.1,442.2 108.9,449.7 109.6,449.0 C110.3,448.3 110.9,439.7 111.5,436.0 C112.1,432.3 112.6,428.7 113.2,427.0 C113.8,425.3 114.5,424.6 115.2,426.0 C115.9,427.4 116.5,431.4 117.2,435.5 C117.9,439.6 118.6,446.1 119.2,450.5 C119.8,454.9 120.2,463.8 120.8,462.1 C121.3,460.4 121.9,444.8 122.5,440.5 C123.1,436.2 123.8,434.3 124.5,436.5 C125.2,438.7 125.7,446.5 126.5,453.8 C127.3,461.1 128.2,471.0 129.1,480.4 C130.0,489.8 131.0,503.7 131.8,510.3 C132.6,517.0 133.1,520.3 133.8,520.3 C134.5,520.3 135.1,510.9 135.8,510.3 C136.5,509.8 137.1,512.0 137.8,517.0 C138.5,522.0 139.1,538.6 139.8,540.3 C140.5,542.0 141.1,532.0 141.8,527.0 C142.5,522.0 143.3,515.3 144.1,510.3 C144.9,505.3 145.6,499.8 146.4,497.0 C147.2,494.2 148.3,492.0 149.1,493.7 C149.9,495.4 150.7,508.1 151.4,507.0 C152.1,505.9 152.5,493.1 153.1,487.0 C153.7,480.9 154.4,472.6 155.1,470.4 C155.8,468.2 156.4,470.6 157.1,473.7 C157.8,476.8 158.4,486.0 159.1,488.7 C159.8,491.4 160.4,489.1 161.1,489.7 C161.8,490.2 162.4,493.0 163.1,492.0 C163.8,491.0 164.4,486.2 165.1,483.7 C165.8,481.2 166.4,474.9 167.1,477.1 C167.8,479.3 168.4,492.6 169.1,497.0 C169.8,501.4 170.6,502.0 171.4,503.7 C172.2,505.4 173.0,501.5 173.7,507.0 C174.4,512.5 175.1,529.2 175.7,536.9 C176.2,544.5 176.4,552.3 177.0,552.9 C177.6,553.5 178.3,547.9 179.0,540.3 C179.7,532.6 180.6,517.3 181.4,507.0 C182.2,496.7 183.3,484.2 184.0,478.7 C184.7,473.1 184.8,473.4 185.3,473.7 C185.9,474.0 186.6,483.7 187.3,480.4 C188.0,477.1 188.6,462.7 189.3,453.8 C190.0,444.9 190.8,432.9 191.6,427.2 C192.4,421.5 193.2,421.7 194.0,419.9 C194.8,418.1 195.8,416.4 196.6,416.5 C197.4,416.6 197.9,417.5 198.6,420.5 C199.3,423.5 199.9,435.6 200.6,434.5 C201.3,433.4 202.0,420.2 202.6,413.9 C203.2,407.6 203.4,397.7 203.9,396.6 C204.4,395.5 204.7,401.0 205.3,407.2 C205.9,413.4 206.6,426.0 207.3,433.8 C208.0,441.6 208.6,449.5 209.3,453.8 C210.0,458.1 210.9,459.9 211.6,459.8 C212.3,459.7 212.7,452.4 213.3,453.1 C213.9,453.8 214.7,456.5 215.3,463.8 C216.0,471.1 216.5,485.4 217.2,497.0 C217.8,508.6 218.6,524.7 219.2,533.6 C219.8,542.5 220.0,551.3 220.6,550.2 C221.2,549.1 221.9,533.9 222.6,527.0 C223.3,520.1 223.8,511.5 224.6,508.7 C225.4,505.9 226.4,508.4 227.2,510.3 C228.0,512.2 228.6,517.5 229.2,520.3 C229.8,523.1 230.2,532.0 230.9,527.0 C231.6,522.0 232.5,501.2 233.2,490.4 C233.9,479.6 234.2,462.1 234.9,462.1 C235.6,462.1 236.5,484.8 237.2,490.4 C237.9,495.9 238.5,497.9 239.2,495.4 C239.9,492.9 240.7,480.7 241.5,475.4 C242.3,470.1 243.2,466.6 243.9,463.8 C244.6,461.0 245.1,456.6 245.8,458.8 C246.5,461.0 247.4,469.4 248.2,477.1 C249.0,484.9 249.8,502.2 250.5,505.3 C251.2,508.4 251.8,500.7 252.5,495.4 C253.2,490.1 254.0,474.0 254.8,473.7 C255.6,473.4 256.4,484.3 257.2,493.7 C258.0,503.1 258.9,519.2 259.8,530.3 C260.7,541.4 261.7,560.2 262.5,560.2 C263.3,560.2 264.0,539.2 264.8,530.3 C265.6,521.4 266.4,511.2 267.1,507.0 C267.8,502.8 268.4,507.0 269.1,505.3 C269.8,503.6 270.7,501.7 271.5,497.0 C272.3,492.3 273.0,486.0 273.8,477.1 C274.6,468.2 275.6,452.1 276.4,443.8 C277.2,435.5 277.7,429.4 278.4,427.2 C279.1,425.0 279.7,431.1 280.4,430.5 C281.1,429.9 281.7,425.8 282.4,423.9 C283.1,422.0 284.0,419.2 284.8,418.9 C285.6,418.6 286.4,422.8 287.1,422.2 C287.8,421.6 288.4,415.2 289.1,415.5 C289.8,415.8 290.7,419.8 291.4,423.9 C292.1,428.0 292.8,435.0 293.5,440.0 C294.2,445.0 294.9,452.6 295.5,454.0 C296.1,455.4 296.6,448.1 297.2,448.3 C297.8,448.5 298.3,449.7 299.0,455.0 C299.7,460.3 300.6,471.7 301.4,480.0 C302.2,488.3 303.1,496.3 303.8,505.0 C304.5,513.7 304.9,525.3 305.3,532.0 C305.8,538.7 306.0,544.4 306.5,545.2 C307.0,546.0 307.8,541.6 308.4,536.9 C309.0,532.2 309.7,520.9 310.4,517.0 C311.1,513.1 312.1,514.2 312.4,513.7" fill="none" stroke="#0000ff" stroke-width="1.45" stroke-linejoin="round" clip-path="url(#cc)"/>
<path d="M55.00,526.83 L55.50,525.22 L56.00,523.38 L56.50,521.34 L57.00,519.09 L57.50,516.66 L58.00,514.05 L58.50,511.29 L59.00,508.39 L59.50,505.36 L60.00,502.22 L60.50,499.00 L61.00,495.70 L61.50,492.36 L62.00,488.98 L62.50,485.59 L63.00,482.21 L63.50,478.86 L64.00,475.55 L64.50,472.31 L65.00,469.16 L65.50,466.11 L66.00,463.18 L66.50,460.39 L67.00,457.75 L67.50,455.28 L68.00,453.00 L68.50,450.91 L69.00,449.03 L69.50,447.38 L70.00,445.95 L70.50,444.76 L71.00,443.82 L71.50,443.12 L72.00,442.69 L72.50,442.51 L73.00,442.59 L73.50,442.94 L74.00,443.55 L74.50,444.43 L75.00,445.57 L75.50,446.96 L76.00,448.59 L76.50,450.46 L77.00,452.54 L77.50,454.83 L78.00,457.32 L78.50,459.98 L79.00,462.81 L79.50,465.78 L80.00,468.87 L80.50,472.08 L81.00,475.37 L81.50,478.73 L82.00,482.13 L82.50,485.56 L83.00,489.00 L83.50,492.41 L84.00,495.79 L84.50,499.11 L85.00,502.36 L85.50,505.50 L86.00,508.52 L86.50,511.41 L87.00,514.14 L87.50,516.70 L88.00,519.07 L88.50,521.24 L89.00,523.19 L89.50,524.91 L90.00,526.40 L90.50,527.64 L91.00,528.63 L91.50,529.35 L92.00,529.81 L92.50,529.99 L93.00,529.91 L93.50,529.56 L94.00,528.93 L94.50,528.04 L95.00,526.88 L95.50,525.47 L96.00,523.81 L96.50,521.90 L97.00,519.76 L97.50,517.40 L98.00,514.83 L98.50,512.07 L99.00,509.12 L99.50,506.00 L100.00,502.72 L100.50,499.32 L101.00,495.79 L101.50,492.16 L102.00,488.45 L102.50,484.67 L103.00,480.84 L103.50,476.99 L104.00,473.13 L104.50,469.29 L105.00,465.47 L105.50,461.70 L106.00,458.01 L106.50,454.40 L107.00,450.89 L107.50,447.51 L108.00,444.27 L108.50,441.18 L109.00,438.27 L109.50,435.54 L110.00,433.01 L110.50,430.69 L111.00,428.60 L111.50,426.74 L112.00,425.13 L112.50,423.76 L113.00,422.66 L113.50,421.82 L114.00,421.25 L114.50,420.95 L115.00,420.92 L115.50,421.19 L116.00,421.74 L116.50,422.58 L117.00,423.70 L117.50,425.10 L118.00,426.76 L118.50,428.70 L119.00,430.88 L119.50,433.30 L120.00,435.96 L120.50,438.83 L121.00,441.90 L121.50,445.16 L122.00,448.60 L122.50,452.18 L123.00,455.90 L123.50,459.74 L124.00,463.68 L124.50,467.69 L125.00,471.77 L125.50,475.88 L126.00,480.01 L126.50,484.14 L127.00,488.25 L127.50,492.32 L128.00,496.32 L128.50,500.24 L129.00,504.05 L129.50,507.75 L130.00,511.30 L130.50,514.70 L131.00,517.93 L131.50,520.96 L132.00,523.79 L132.50,526.40 L133.00,528.78 L133.50,530.91 L134.00,532.79 L134.50,534.41 L135.00,535.75 L135.50,536.82 L136.00,537.60 L136.50,538.09 L137.00,538.29 L137.50,538.21 L138.00,537.87 L138.50,537.25 L139.00,536.38 L139.50,535.25 L140.00,533.86 L140.50,532.24 L141.00,530.38 L141.50,528.29 L142.00,526.00 L142.50,523.50 L143.00,520.82 L143.50,517.97 L144.00,514.97 L144.50,511.83 L145.00,508.56 L145.50,505.20 L146.00,501.76 L146.50,498.25 L147.00,494.69 L147.50,491.12 L148.00,487.54 L148.50,483.97 L149.00,480.44 L149.50,476.97 L150.00,473.57 L150.50,470.26 L151.00,467.07 L151.50,464.01 L152.00,461.10 L152.50,458.35 L153.00,455.78 L153.50,453.40 L154.00,451.23 L154.50,449.28 L155.00,447.56 L155.50,446.08 L156.00,444.84 L156.50,443.87 L157.00,443.15 L157.50,442.69 L158.00,442.51 L158.50,442.57 L159.00,442.86 L159.50,443.38 L160.00,444.12 L160.50,445.07 L161.00,446.23 L161.50,447.60 L162.00,449.17 L162.50,450.93 L163.00,452.87 L163.50,454.98 L164.00,457.26 L164.50,459.68 L165.00,462.24 L165.50,464.92 L166.00,467.71 L166.50,470.60 L167.00,473.57 L167.50,476.60 L168.00,479.69 L168.50,482.80 L169.00,485.94 L169.50,489.07 L170.00,492.19 L170.50,495.28 L171.00,498.33 L171.50,501.31 L172.00,504.22 L172.50,507.03 L173.00,509.73 L173.50,512.32 L174.00,514.77 L174.50,517.07 L175.00,519.22 L175.50,521.20 L176.00,522.99 L176.50,524.60 L177.00,526.01 L177.50,527.22 L178.00,528.21 L178.50,528.99 L179.00,529.55 L179.50,529.89 L180.00,530.00 L180.50,529.84 L181.00,529.37 L181.50,528.58 L182.00,527.48 L182.50,526.08 L183.00,524.39 L183.50,522.41 L184.00,520.16 L184.50,517.65 L185.00,514.89 L185.50,511.91 L186.00,508.71 L186.50,505.32 L187.00,501.76 L187.50,498.04 L188.00,494.19 L188.50,490.24 L189.00,486.19 L189.50,482.09 L190.00,477.94 L190.50,473.79 L191.00,469.64 L191.50,465.52 L192.00,461.47 L192.50,457.49 L193.00,453.62 L193.50,449.87 L194.00,446.28 L194.50,442.85 L195.00,439.61 L195.50,436.58 L196.00,433.78 L196.50,431.22 L197.00,428.92 L197.50,426.88 L198.00,425.13 L198.50,423.67 L199.00,422.52 L199.50,421.67 L200.00,421.13 L200.50,420.91 L201.00,421.00 L201.50,421.38 L202.00,422.07 L202.50,423.05 L203.00,424.31 L203.50,425.86 L204.00,427.68 L204.50,429.77 L205.00,432.11 L205.50,434.69 L206.00,437.50 L206.50,440.53 L207.00,443.75 L207.50,447.16 L208.00,450.74 L208.50,454.46 L209.00,458.30 L209.50,462.26 L210.00,466.30 L210.50,470.42 L211.00,474.58 L211.50,478.76 L212.00,482.95 L212.50,487.12 L213.00,491.26 L213.50,495.33 L214.00,499.33 L214.50,503.22 L215.00,506.99 L215.50,510.63 L216.00,514.10 L216.50,517.40 L217.00,520.51 L217.50,523.41 L218.00,526.08 L218.50,528.52 L219.00,530.71 L219.50,532.64 L220.00,534.30 L220.50,535.68 L221.00,536.77 L221.50,537.58 L222.00,538.08 L222.50,538.29 L223.00,538.22 L223.50,537.91 L224.00,537.36 L224.50,536.58 L225.00,535.56 L225.50,534.32 L226.00,532.86 L226.50,531.19 L227.00,529.31 L227.50,527.24 L228.00,524.98 L228.50,522.55 L229.00,519.96 L229.50,517.22 L230.00,514.35 L230.50,511.36 L231.00,508.26 L231.50,505.07 L232.00,501.81 L232.50,498.50 L233.00,495.14 L233.50,491.76 L234.00,488.37 L234.50,484.99 L235.00,481.64 L235.50,478.33 L236.00,475.08 L236.50,471.91 L237.00,468.84 L237.50,465.87 L238.00,463.02 L238.50,460.31 L239.00,457.75 L239.50,455.35 L240.00,453.13 L240.50,451.10 L241.00,449.26 L241.50,447.63 L242.00,446.21 L242.50,445.01 L243.00,444.05 L243.50,443.31 L244.00,442.81 L244.50,442.54 L245.00,442.52 L245.50,442.76 L246.00,443.27 L246.50,444.05 L247.00,445.09 L247.50,446.38 L248.00,447.91 L248.50,449.68 L249.00,451.68 L249.50,453.89 L250.00,456.30 L250.50,458.90 L251.00,461.66 L251.50,464.57 L252.00,467.62 L252.50,470.79 L253.00,474.04 L253.50,477.38 L254.00,480.77 L254.50,484.19 L255.00,487.62 L255.50,491.05 L256.00,494.45 L256.50,497.79 L257.00,501.07 L257.50,504.25 L258.00,507.33 L258.50,510.27 L259.00,513.06 L259.50,515.69 L260.00,518.14 L260.50,520.39 L261.00,522.43 L261.50,524.25 L262.00,525.84 L262.50,527.18 L263.00,528.26 L263.50,529.09 L264.00,529.66 L264.50,529.95 L265.00,529.98 L265.50,529.73 L266.00,529.22 L266.50,528.44 L267.00,527.40 L267.50,526.10 L268.00,524.55 L268.50,522.76 L269.00,520.73 L269.50,518.47 L270.00,516.01 L270.50,513.34 L271.00,510.48 L271.50,507.45 L272.00,504.26 L272.50,500.93 L273.00,497.47 L273.50,493.91 L274.00,490.25 L274.50,486.52 L275.00,482.73 L275.50,478.91 L276.00,475.07 L276.50,471.23 L277.00,467.41 L277.50,463.63 L278.00,459.91 L278.50,456.27 L279.00,452.73 L279.50,449.29 L280.00,445.99 L280.50,442.83 L281.00,439.83 L281.50,437.01 L282.00,434.38 L282.50,431.96 L283.00,429.75 L283.50,427.77 L284.00,426.02 L284.50,424.52 L285.00,423.27 L285.50,422.28 L286.00,421.55 L286.50,421.09 L287.00,420.91 L287.50,421.00 L288.00,421.39 L288.50,422.08 L289.00,423.07 L289.50,424.34 L290.00,425.91 L290.50,427.74 L291.00,429.85 L291.50,432.21 L292.00,434.81 L292.50,437.65 L293.00,440.70 L293.50,443.95 L294.00,447.38 L294.50,450.98 L295.00,454.73 L295.50,458.60 L296.00,462.59 L296.50,466.66 L297.00,470.79 L297.50,474.97 L298.00,479.18 L298.50,483.39 L299.00,487.57 L299.50,491.72 L300.00,495.81 L300.50,499.81 L301.00,503.71 L301.50,507.48 L302.00,511.11 L302.50,514.58 L303.00,517.87 L303.50,520.96 L304.00,523.84 L304.50,526.49 L305.00,528.90 L305.50,531.06 L306.00,532.95 L306.50,534.57 L307.00,535.90 L307.50,536.95 L308.00,537.70 L308.50,538.15 L309.00,538.30 L309.50,538.17 L310.00,537.77 L310.50,537.10 L311.00,536.18 L311.50,535.00 L312.00,533.57 L312.50,531.90 L313.00,529.99" fill="none" stroke="#ff0000" stroke-width="4.1" stroke-linejoin="round" clip-path="url(#cc)"/>
<text x="105.40" y="635.9" font-size="23.5">Milling time</text>
<text x="229.70" y="635.9" font-size="23.5">(</text>
<text x="239.70" y="635.9" font-size="23.5" font-style="italic">s</text>
<text x="252.90" y="635.9" font-size="23.5">)</text>
<text x="0" y="0" font-size="23.5" text-anchor="middle" transform="translate(18.6,471.0) rotate(-90)">Force (N)</text>
<text x="183.4" y="355.8" font-size="23.2" font-weight="bold" text-anchor="middle">(c) Pass #11</text>
<clipPath id="cd"><rect x="394.5" y="366.0" width="273.9" height="209.5"/></clipPath>
<rect x="394.5" y="366.0" width="273.9" height="209.5" fill="none" stroke="#000" stroke-width="1.2"/>
<path d="M394.5,560.9 h3.2 M668.4,560.9 h-3.2" stroke="#000" stroke-width="1.1"/>
<text font-size="22" text-anchor="end" transform="translate(387.20,570.18) scale(0.970,1.030)">0</text>
<path d="M394.5,495.9 h3.2 M668.4,495.9 h-3.2" stroke="#000" stroke-width="1.1"/>
<text font-size="22" text-anchor="end" transform="translate(387.20,505.22) scale(0.970,1.030)">2</text>
<path d="M394.5,431.0 h3.2 M668.4,431.0 h-3.2" stroke="#000" stroke-width="1.1"/>
<text font-size="22" text-anchor="end" transform="translate(387.20,440.26) scale(0.970,1.030)">4</text>
<path d="M394.5,366.0 h3.2 M668.4,366.0 h-3.2" stroke="#000" stroke-width="1.1"/>
<text font-size="22" text-anchor="end" transform="translate(387.20,375.30) scale(0.970,1.030)">6</text>
<path d="M394.5,575.5 v-3.2 M394.5,366.0 v3.2" stroke="#000" stroke-width="1.1"/>
<text font-size="22" text-anchor="middle" transform="translate(394.20,605.70) scale(0.970,1.030)">0</text>
<path d="M531.5,575.5 v-3.2 M531.5,366.0 v3.2" stroke="#000" stroke-width="1.1"/>
<text font-size="22" text-anchor="middle" transform="translate(531.15,605.70) scale(0.970,1.030)">0.005</text>
<path d="M668.4,575.5 v-3.2 M668.4,366.0 v3.2" stroke="#000" stroke-width="1.1"/>
<text font-size="22" text-anchor="middle" transform="translate(668.10,605.70) scale(0.970,1.030)">0.01</text>
<path d="M395.0,485.4 C395.3,487.3 396.1,490.6 396.7,497.0 C397.2,503.4 397.9,516.4 398.3,523.6 C398.7,530.8 398.9,544.7 399.3,540.3 C399.7,535.9 400.2,512.0 400.6,497.0 C401.1,482.0 401.6,463.6 402.0,450.5 C402.4,437.4 402.8,423.6 403.3,418.5 C403.8,413.4 404.4,416.2 405.0,419.9 C405.6,423.6 406.1,436.2 406.6,440.5 C407.2,444.8 407.6,445.2 408.3,445.5 C409.0,445.8 409.9,447.5 410.6,442.2 C411.3,436.9 411.9,423.6 412.6,413.9 C413.3,404.2 414.1,387.3 414.6,384.0 C415.2,380.7 415.4,387.2 415.9,393.9 C416.4,400.5 417.0,415.6 417.6,423.9 C418.2,432.2 418.8,440.2 419.3,443.8 C419.9,447.4 419.8,441.1 420.9,445.5 C422.0,449.9 425.0,461.8 426.2,470.4 C427.4,479.0 427.6,488.7 428.3,497.0 C429.0,505.3 429.7,513.1 430.4,520.3 C431.1,527.5 431.8,535.0 432.3,540.3 C432.9,545.6 433.2,548.6 433.7,551.9 C434.1,555.2 434.5,556.5 435.0,560.2 C435.5,563.9 436.4,574.0 436.9,574.0 C437.4,574.0 437.7,566.9 438.2,560.2 C438.7,553.5 439.3,540.8 439.9,533.6 C440.4,526.4 440.9,519.2 441.5,517.0 C442.1,514.8 442.6,518.1 443.2,520.3 C443.8,522.5 444.5,529.8 445.2,530.3 C445.9,530.8 446.5,528.0 447.2,523.6 C447.9,519.2 448.5,510.4 449.2,503.7 C449.9,497.0 450.7,489.8 451.5,483.7 C452.3,477.6 453.2,467.1 453.9,467.1 C454.6,467.1 455.2,479.8 455.8,483.7 C456.4,487.6 456.9,493.2 457.5,490.4 C458.1,487.6 458.6,473.8 459.2,467.1 C459.8,460.5 460.2,451.1 460.8,450.5 C461.4,449.9 461.9,458.8 462.5,463.8 C463.1,468.8 463.8,477.9 464.5,480.4 C465.2,482.9 465.8,477.0 466.5,478.7 C467.2,480.4 467.8,485.1 468.5,490.4 C469.2,495.7 469.8,504.2 470.5,510.3 C471.2,516.4 471.8,521.5 472.5,527.0 C473.2,532.5 474.1,538.9 474.8,543.6 C475.5,548.3 475.9,551.3 476.5,555.2 C477.1,559.1 477.6,566.9 478.1,566.9 C478.7,566.9 479.2,557.4 479.8,555.2 C480.4,553.0 481.1,556.1 481.8,553.6 C482.5,551.1 483.1,548.6 483.8,540.3 C484.5,532.0 485.2,512.7 485.8,503.7 C486.4,494.7 486.8,488.3 487.4,486.4 C487.9,484.4 488.5,491.9 489.1,492.0 C489.7,492.1 490.1,493.4 490.8,487.0 C491.5,480.6 492.4,461.7 493.1,453.8 C493.8,445.9 494.4,443.7 495.1,439.8 C495.8,435.9 496.4,434.8 497.1,430.5 C497.8,426.2 498.4,415.0 499.1,413.9 C499.8,412.8 500.4,420.6 501.1,423.9 C501.8,427.2 502.4,435.5 503.1,433.8 C503.8,432.1 504.6,420.0 505.1,413.9 C505.7,407.8 505.7,397.3 506.4,397.3 C507.1,397.3 508.3,406.9 509.3,414.0 C510.3,421.1 511.3,431.7 512.3,440.0 C513.3,448.3 514.3,457.3 515.3,464.0 C516.3,470.7 517.5,476.7 518.3,480.0 C519.1,483.3 519.5,482.0 520.0,484.0 C520.5,486.0 521.0,487.7 521.5,492.0 C522.0,496.3 522.4,500.3 523.0,510.0 C523.6,519.7 524.4,540.5 525.0,550.2 C525.6,560.0 526.2,564.6 526.7,568.5 C527.2,572.4 527.8,576.5 528.3,573.5 C528.8,570.5 529.5,560.2 530.0,550.2 C530.5,540.2 531.1,522.0 531.6,513.7 C532.1,505.4 532.7,499.8 533.3,500.3 C533.9,500.9 534.5,509.8 535.0,517.0 C535.5,524.2 536.1,540.3 536.6,543.6 C537.1,546.9 537.6,543.0 538.3,536.9 C539.0,530.8 539.8,517.0 540.6,507.0 C541.4,497.0 542.5,484.3 543.3,477.1 C544.1,469.9 544.9,460.5 545.6,463.8 C546.3,467.1 547.0,489.8 547.6,497.0 C548.2,504.2 548.7,512.5 549.3,507.0 C549.9,501.5 550.6,475.7 551.3,463.8 C552.0,451.9 552.6,437.2 553.3,435.5 C554.0,433.8 554.6,446.3 555.3,453.8 C555.9,461.3 556.6,472.6 557.2,480.4 C557.9,488.1 558.5,495.3 559.2,500.3 C559.9,505.3 560.5,509.7 561.2,510.3 C561.9,510.9 562.5,505.9 563.2,503.7 C563.9,501.5 564.5,492.6 565.2,497.0 C565.9,501.4 566.5,519.2 567.2,530.3 C567.9,541.4 568.7,556.3 569.2,563.5 C569.8,570.7 570.0,575.1 570.5,573.5 C571.0,571.9 571.8,562.5 572.5,553.6 C573.2,544.7 573.8,529.7 574.5,520.3 C575.2,510.9 575.8,502.4 576.5,497.0 C577.2,491.6 577.8,487.7 578.5,487.7 C579.2,487.7 579.8,498.8 580.5,497.0 C581.2,495.2 581.8,487.1 582.5,477.1 C583.2,467.1 583.8,447.2 584.5,437.2 C585.2,427.2 585.8,419.7 586.5,417.2 C587.2,414.7 587.8,419.4 588.5,422.2 C589.2,425.0 589.8,431.6 590.5,433.8 C591.2,436.0 591.8,437.7 592.5,435.5 C593.2,433.3 593.8,426.9 594.5,420.5 C595.2,414.1 595.8,400.1 596.5,397.3 C597.2,394.6 597.7,398.6 598.5,404.0 C599.3,409.4 600.5,422.0 601.5,430.0 C602.5,438.0 603.6,446.7 604.5,452.0 C605.4,457.3 606.2,459.0 607.0,462.0 C607.8,465.0 608.6,465.3 609.3,470.0 C610.0,474.7 610.5,483.3 611.0,490.0 C611.5,496.7 611.8,503.6 612.5,510.3 C613.2,517.0 614.2,523.1 615.1,530.3 C616.0,537.5 617.0,547.8 617.8,553.6 C618.6,559.4 619.1,565.2 619.8,565.2 C620.5,565.2 621.1,560.0 621.8,553.6 C622.5,547.2 623.1,532.0 623.8,527.0 C624.5,522.0 625.1,522.5 625.8,523.6 C626.5,524.7 627.3,535.8 628.1,533.6 C628.9,531.4 629.6,517.5 630.4,510.3 C631.2,503.1 632.2,498.1 633.1,490.4 C634.0,482.6 634.9,467.7 635.7,463.8 C636.5,459.9 637.3,463.2 638.1,467.1 C638.9,471.0 639.7,485.9 640.4,487.0 C641.1,488.1 641.7,477.0 642.4,473.7 C643.1,470.4 643.9,469.6 644.7,467.1 C645.5,464.6 646.3,457.7 647.0,458.8 C647.7,459.9 648.3,467.3 649.0,473.7 C649.7,480.1 650.6,490.3 651.4,497.0 C652.2,503.7 653.0,509.8 653.7,513.7 C654.4,517.6 655.0,517.5 655.7,520.3 C656.4,523.1 657.0,525.3 657.7,530.3 C658.4,535.3 658.9,544.1 659.7,550.2 C660.5,556.3 661.5,563.0 662.3,566.9 C663.1,570.8 663.7,575.2 664.3,573.5 C664.9,571.8 665.2,565.8 665.7,556.9 C666.2,548.0 666.6,530.3 667.0,520.3 C667.4,510.3 668.1,500.9 668.3,497.0" fill="none" stroke="#0000ff" stroke-width="1.45" stroke-linejoin="round" clip-path="url(#cd)"/>
<path d="M394.50,548.23 L395.00,545.02 L395.50,541.56 L396.00,537.86 L396.50,533.94 L397.00,529.80 L397.50,525.46 L398.00,520.94 L398.50,516.26 L399.00,511.44 L399.50,506.49 L400.00,501.43 L400.50,496.29 L401.00,491.07 L401.50,485.81 L402.00,480.52 L402.50,475.22 L403.00,469.93 L403.50,464.68 L404.00,459.48 L404.50,454.35 L405.00,449.31 L405.50,444.38 L406.00,439.59 L406.50,434.94 L407.00,430.46 L407.50,426.16 L408.00,422.06 L408.50,418.18 L409.00,414.52 L409.50,411.11 L410.00,407.96 L410.50,405.08 L411.00,402.48 L411.50,400.17 L412.00,398.15 L412.50,396.45 L413.00,395.06 L413.50,393.98 L414.00,393.23 L414.50,392.80 L415.00,392.71 L415.50,393.00 L416.00,393.72 L416.50,394.86 L417.00,396.41 L417.50,398.37 L418.00,400.72 L418.50,403.46 L419.00,406.57 L419.50,410.04 L420.00,413.84 L420.50,417.97 L421.00,422.41 L421.50,427.12 L422.00,432.10 L422.50,437.30 L423.00,442.72 L423.50,448.33 L424.00,454.09 L424.50,459.97 L425.00,465.97 L425.50,472.03 L426.00,478.14 L426.50,484.26 L427.00,490.37 L427.50,496.43 L428.00,502.43 L428.50,508.31 L429.00,514.07 L429.50,519.68 L430.00,525.10 L430.50,530.30 L431.00,535.28 L431.50,539.99 L432.00,544.43 L432.50,548.56 L433.00,552.36 L433.50,555.83 L434.00,558.94 L434.50,561.68 L435.00,564.03 L435.50,565.99 L436.00,567.54 L436.50,568.68 L437.00,569.40 L437.50,569.69 L438.00,569.59 L438.50,569.16 L439.00,568.38 L439.50,567.28 L440.00,565.86 L440.50,564.11 L441.00,562.06 L441.50,559.70 L442.00,557.06 L442.50,554.13 L443.00,550.95 L443.50,547.51 L444.00,543.85 L444.50,539.97 L445.00,535.89 L445.50,531.63 L446.00,527.22 L446.50,522.67 L447.00,518.01 L447.50,513.25 L448.00,508.42 L448.50,503.54 L449.00,498.64 L449.50,493.74 L450.00,488.85 L450.50,484.01 L451.00,479.24 L451.50,474.55 L452.00,469.98 L452.50,465.54 L453.00,461.25 L453.50,457.13 L454.00,453.21 L454.50,449.50 L455.00,446.02 L455.50,442.78 L456.00,439.81 L456.50,437.11 L457.00,434.69 L457.50,432.57 L458.00,430.77 L458.50,429.28 L459.00,428.11 L459.50,427.27 L460.00,426.77 L460.50,426.60 L461.00,426.77 L461.50,427.28 L462.00,428.12 L462.50,429.30 L463.00,430.80 L463.50,432.62 L464.00,434.75 L464.50,437.18 L465.00,439.89 L465.50,442.88 L466.00,446.13 L466.50,449.61 L467.00,453.33 L467.50,457.25 L468.00,461.36 L468.50,465.63 L469.00,470.05 L469.50,474.60 L470.00,479.24 L470.50,483.97 L471.00,488.75 L471.50,493.55 L472.00,498.37 L472.50,503.17 L473.00,507.93 L473.50,512.63 L474.00,517.23 L474.50,521.73 L475.00,526.10 L475.50,530.31 L476.00,534.34 L476.50,538.18 L477.00,541.81 L477.50,545.20 L478.00,548.35 L478.50,551.23 L479.00,553.83 L479.50,556.14 L480.00,558.15 L480.50,559.84 L481.00,561.21 L481.50,562.26 L482.00,562.97 L482.50,563.34 L483.00,563.37 L483.50,563.01 L484.00,562.25 L484.50,561.09 L485.00,559.54 L485.50,557.61 L486.00,555.31 L486.50,552.64 L487.00,549.62 L487.50,546.26 L488.00,542.59 L488.50,538.61 L489.00,534.34 L489.50,529.81 L490.00,525.04 L490.50,520.05 L491.00,514.86 L491.50,509.49 L492.00,503.98 L492.50,498.34 L493.00,492.61 L493.50,486.82 L494.00,480.98 L494.50,475.12 L495.00,469.28 L495.50,463.49 L496.00,457.76 L496.50,452.12 L497.00,446.61 L497.50,441.24 L498.00,436.05 L498.50,431.06 L499.00,426.29 L499.50,421.76 L500.00,417.49 L500.50,413.51 L501.00,409.84 L501.50,406.48 L502.00,403.46 L502.50,400.79 L503.00,398.49 L503.50,396.56 L504.00,395.01 L504.50,393.85 L505.00,393.09 L505.50,392.73 L506.00,392.77 L506.50,393.20 L507.00,394.02 L507.50,395.23 L508.00,396.82 L508.50,398.78 L509.00,401.10 L509.50,403.78 L510.00,406.81 L510.50,410.16 L511.00,413.83 L511.50,417.79 L512.00,422.04 L512.50,426.55 L513.00,431.30 L513.50,436.27 L514.00,441.44 L514.50,446.79 L515.00,452.29 L515.50,457.92 L516.00,463.65 L516.50,469.45 L517.00,475.31 L517.50,481.20 L518.00,487.09 L518.50,492.95 L519.00,498.75 L519.50,504.48 L520.00,510.11 L520.50,515.61 L521.00,520.96 L521.50,526.13 L522.00,531.10 L522.50,535.85 L523.00,540.36 L523.50,544.61 L524.00,548.57 L524.50,552.24 L525.00,555.59 L525.50,558.62 L526.00,561.30 L526.50,563.62 L527.00,565.58 L527.50,567.17 L528.00,568.38 L528.50,569.20 L529.00,569.63 L529.50,569.67 L530.00,569.35 L530.50,568.68 L531.00,567.66 L531.50,566.29 L532.00,564.59 L532.50,562.55 L533.00,560.20 L533.50,557.54 L534.00,554.58 L534.50,551.34 L535.00,547.84 L535.50,544.10 L536.00,540.12 L536.50,535.94 L537.00,531.57 L537.50,527.04 L538.00,522.36 L538.50,517.56 L539.00,512.66 L539.50,507.70 L540.00,502.68 L540.50,497.65 L541.00,492.61 L541.50,487.60 L542.00,482.65 L542.50,477.77 L543.00,473.00 L543.50,468.34 L544.00,463.84 L544.50,459.51 L545.00,455.36 L545.50,451.43 L546.00,447.74 L546.50,444.29 L547.00,441.11 L547.50,438.21 L548.00,435.61 L548.50,433.32 L549.00,431.35 L549.50,429.71 L550.00,428.41 L550.50,427.46 L551.00,426.86 L551.50,426.61 L552.00,426.70 L552.50,427.13 L553.00,427.88 L553.50,428.95 L554.00,430.34 L554.50,432.04 L555.00,434.03 L555.50,436.32 L556.00,438.89 L556.50,441.73 L557.00,444.83 L557.50,448.16 L558.00,451.72 L558.50,455.49 L559.00,459.44 L559.50,463.57 L560.00,467.84 L560.50,472.25 L561.00,476.76 L561.50,481.37 L562.00,486.03 L562.50,490.74 L563.00,495.47 L563.50,500.20 L564.00,504.90 L564.50,509.56 L565.00,514.15 L565.50,518.64 L566.00,523.02 L566.50,527.27 L567.00,531.36 L567.50,535.28 L568.00,539.01 L568.50,542.52 L569.00,545.81 L569.50,548.85 L570.00,551.64 L570.50,554.16 L571.00,556.39 L571.50,558.33 L572.00,559.96 L572.50,561.29 L573.00,562.30 L573.50,562.98 L574.00,563.34 L574.50,563.37 L575.00,563.01 L575.50,562.25 L576.00,561.09 L576.50,559.54 L577.00,557.61 L577.50,555.31 L578.00,552.64 L578.50,549.62 L579.00,546.26 L579.50,542.59 L580.00,538.61 L580.50,534.34 L581.00,529.81 L581.50,525.04 L582.00,520.05 L582.50,514.86 L583.00,509.49 L583.50,503.98 L584.00,498.34 L584.50,492.61 L585.00,486.82 L585.50,480.98 L586.00,475.12 L586.50,469.28 L587.00,463.49 L587.50,457.76 L588.00,452.12 L588.50,446.61 L589.00,441.24 L589.50,436.05 L590.00,431.06 L590.50,426.29 L591.00,421.76 L591.50,417.49 L592.00,413.51 L592.50,409.84 L593.00,406.48 L593.50,403.46 L594.00,400.79 L594.50,398.49 L595.00,396.56 L595.50,395.01 L596.00,393.85 L596.50,393.09 L597.00,392.73 L597.50,392.78 L598.00,393.25 L598.50,394.14 L599.00,395.46 L599.50,397.18 L600.00,399.32 L600.50,401.85 L601.00,404.76 L601.50,408.04 L602.00,411.68 L602.50,415.65 L603.00,419.94 L603.50,424.52 L604.00,429.38 L604.50,434.49 L605.00,439.82 L605.50,445.35 L606.00,451.06 L606.50,456.91 L607.00,462.88 L607.50,468.94 L608.00,475.05 L608.50,481.20 L609.00,487.35 L609.50,493.46 L610.00,499.52 L610.50,505.49 L611.00,511.34 L611.50,517.05 L612.00,522.58 L612.50,527.91 L613.00,533.02 L613.50,537.88 L614.00,542.46 L614.50,546.75 L615.00,550.72 L615.50,554.36 L616.00,557.64 L616.50,560.55 L617.00,563.08 L617.50,565.22 L618.00,566.94 L618.50,568.26 L619.00,569.15 L619.50,569.62 L620.00,569.67 L620.50,569.38 L621.00,568.76 L621.50,567.81 L622.00,566.55 L622.50,564.97 L623.00,563.09 L623.50,560.91 L624.00,558.44 L624.50,555.69 L625.00,552.68 L625.50,549.42 L626.00,545.93 L626.50,542.22 L627.00,538.30 L627.50,534.20 L628.00,529.94 L628.50,525.53 L629.00,521.00 L629.50,516.36 L630.00,511.63 L630.50,506.85 L631.00,502.02 L631.50,497.18 L632.00,492.34 L632.50,487.53 L633.00,482.77 L633.50,478.08 L634.00,473.48 L634.50,468.99 L635.00,464.64 L635.50,460.44 L636.00,456.41 L636.50,452.57 L637.00,448.95 L637.50,445.54 L638.00,442.38 L638.50,439.48 L639.00,436.84 L639.50,434.49 L640.00,432.42 L640.50,430.66 L641.00,429.21 L641.50,428.07 L642.00,427.25 L642.50,426.76 L643.00,426.60 L643.50,426.78 L644.00,427.34 L644.50,428.25 L645.00,429.53 L645.50,431.16 L646.00,433.13 L646.50,435.43 L647.00,438.06 L647.50,440.99 L648.00,444.21 L648.50,447.71 L649.00,451.46 L649.50,455.45 L650.00,459.65 L650.50,464.04 L651.00,468.59 L651.50,473.29 L652.00,478.11 L652.50,483.01 L653.00,487.98 L653.50,492.99 L654.00,498.01 L654.50,503.01 L655.00,507.97 L655.50,512.86 L656.00,517.66 L656.50,522.33 L657.00,526.86 L657.50,531.21 L658.00,535.37 L658.50,539.31 L659.00,543.01 L659.50,546.45 L660.00,549.62 L660.50,552.49 L661.00,555.06 L661.50,557.29 L662.00,559.20 L662.50,560.76 L663.00,561.96 L663.50,562.80 L664.00,563.28 L664.50,563.39 L665.00,563.13 L665.50,562.49 L666.00,561.47 L666.50,560.08 L667.00,558.33 L667.50,556.22 L668.00,553.77 L668.40,551.56" fill="none" stroke="#ff0000" stroke-width="4.1" stroke-linejoin="round" clip-path="url(#cd)"/>
<text x="452.85" y="635.8" font-size="23.5">Milling time</text>
<text x="577.15" y="635.8" font-size="23.5">(</text>
<text x="587.15" y="635.8" font-size="23.5" font-style="italic">s</text>
<text x="600.35" y="635.8" font-size="23.5">)</text>
<text x="0" y="0" font-size="23.5" text-anchor="middle" transform="translate(358.1,471.1) rotate(-90)">Force (N)</text>
<text x="530.9" y="356.0" font-size="23.2" font-weight="bold" text-anchor="middle">(d) Pass #16</text>
<path d="M231,10.5 H302" stroke="#0000ff" stroke-width="1.3"/>
<path d="M353.3,10.8 H425.3" stroke="#ff0000" stroke-width="4"/>
<text x="308.5" y="13.8" font-size="21" font-style="italic">F</text>
<text x="320.0" y="23" font-size="15">E</text>
<text x="331.2" y="23" font-size="15" font-style="italic">x</text>
<text x="431.1" y="13.8" font-size="21" font-style="italic">F</text>
<text x="442.5" y="23" font-size="15">P</text>
<text x="453.3" y="23" font-size="15" font-style="italic">x</text>
</svg></body></html>
